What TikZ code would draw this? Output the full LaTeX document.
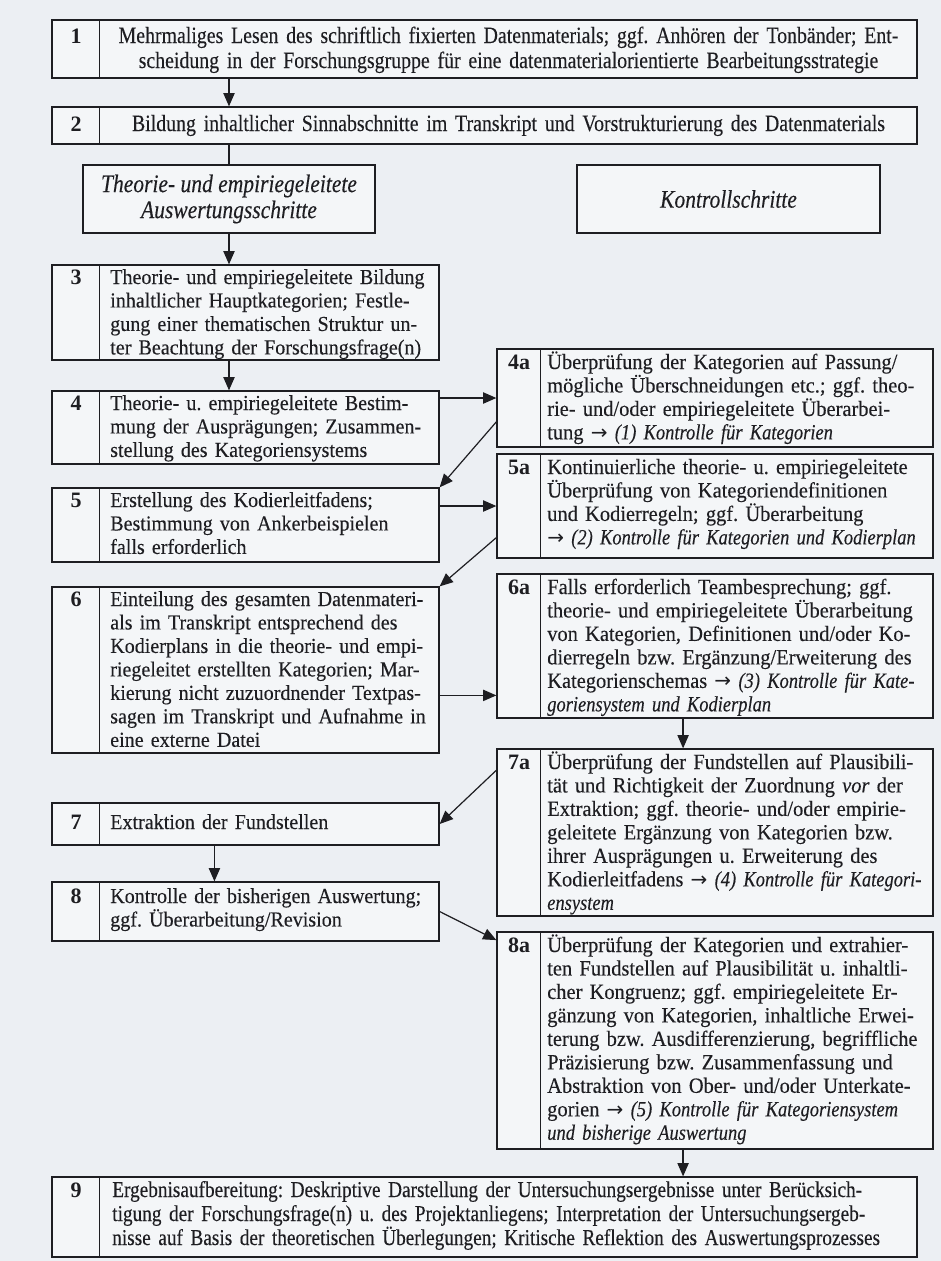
\documentclass[tikz,border=0pt]{standalone}
\usepackage{fontspec}
\setmainfont{Liberation Serif}
\newfontfamily\bodyfont[FakeStretch=0.94,FakeBold=0.2]{Liberation Serif}
\newfontfamily\narrowfont[FakeStretch=0.85,FakeBold=0.2]{Liberation Serif}
\newfontfamily\condfont[FakeStretch=0.85,FakeBold=0.2]{Liberation Serif}
\newfontfamily\arrowfont{DejaVu Sans}
\usetikzlibrary{arrows.meta,fit,calc}
\definecolor{paper}{RGB}{236,239,243}
\definecolor{boxfill}{RGB}{244,246,248}
\definecolor{ink}{RGB}{30,30,34}
\newcommand{\rarr}{{\arrowfont\fontsize{15}{17.6}\selectfont →}}
\newcommand{\kit}[1]{{\condfont\itshape #1}}
\newcommand{\jl}[1]{\makebox[\linewidth][s]{#1}}
\frenchspacing
\tikzset{
  stepbox/.style={draw=ink, line width=0.95pt, fill=boxfill, inner sep=0pt},
  headtxt/.style={inner sep=0pt, align=center, text=ink,
     font=\narrowfont\itshape\fontsize{19}{19.5}\selectfont},
  divline/.style={draw=ink, line width=0.95pt},
  numlbl/.style={anchor=base, inner sep=0pt, text=ink, font=\fontsize{16.5}{17.6}\selectfont\bfseries},
  lefttxt/.style={anchor=base west, inner sep=0pt, text=ink, text width=238.5pt, align=left,
     font=\bodyfont\frenchspacing\fontsize{16}{17.6}\selectfont},
  righttxt/.style={anchor=base west, inner sep=0pt, text=ink, text width=310pt, align=left,
     font=\bodyfont\frenchspacing\fontsize{16.3}{17.6}\selectfont},
  widetxt/.style={inner sep=0pt, text=ink, font=\narrowfont\frenchspacing\fontsize{17.5}{18.75}\selectfont},
  arr/.style={draw=ink, line width=0.9pt, -{Triangle[length=10pt,width=8.5pt]}},
  link/.style={draw=ink, line width=0.9pt},
}
\begin{document}
\begin{tikzpicture}[x=0.75pt,y=-0.75pt]
\fill[paper] (0,0) rectangle (941,1261);
\useasboundingbox (0,0) rectangle (941,1261);

% ---------- boxes ----------
\node[stepbox, fit={(52,20) (917,78)}] (b1) {};
\node[stepbox, fit={(52,107) (917,144)}] (b2) {};
\node[stepbox, fit={(83,165) (375,233)}] (hL) {};
\node[stepbox, fit={(577,165) (880,233)}] (hR) {};
\node[stepbox, fit={(52,265) (439,360)}] (b3) {};
\node[stepbox, fit={(52,391) (439,464)}] (b4) {};
\node[stepbox, fit={(52,488) (439,562)}] (b5) {};
\node[stepbox, fit={(52,587) (439,753)}] (b6) {};
\node[stepbox, fit={(52,803) (439,845)}] (b7) {};
\node[stepbox, fit={(52,882) (439,941)}] (b8) {};
\node[stepbox, fit={(497,349) (933,447)}] (b4a) {};
\node[stepbox, fit={(497,454) (933,558)}] (b5a) {};
\node[stepbox, fit={(497,574) (933,718)}] (b6a) {};
\node[stepbox, fit={(497,749) (933,916)}] (b7a) {};
\node[stepbox, fit={(497,932) (933,1149)}] (b8a) {};
\node[stepbox, fit={(52,1177) (917,1257)}] (b9) {};

% ---------- header texts ----------
\node[headtxt] (hLt) at (hL.center) {Theorie- und empiriegeleitete\\Auswertungsschritte};
\node[headtxt] (hRt) at (hR.center) {Kontrollschritte};

% ---------- number columns ----------
\foreach \b in {b1,b2,b3,b4,b5,b6,b7,b8,b9}{
  \draw[divline] ([xshift=36pt]\b.north west) -- ([xshift=36pt]\b.south west);
}
\foreach \b in {b4a,b5a,b6a,b7a,b8a}{
  \draw[divline] ([xshift=33pt]\b.north west) -- ([xshift=33pt]\b.south west);
}

% ---------- numbers ----------
\node[numlbl] (n1) at (76,43) {1};
\node[numlbl] (n2) at (76,131) {2};
\node[numlbl] (n3) at (76,284) {3};
\node[numlbl] (n4) at (76,410) {4};
\node[numlbl] (n5) at (76,507) {5};
\node[numlbl] (n6) at (76,606) {6};
\node[numlbl] (n7) at (76,829) {7};
\node[numlbl] (n8) at (76,903) {8};
\node[numlbl] (n9) at (76,1197) {9};
\node[numlbl] (n4a) at (519,369) {4a};
\node[numlbl] (n5a) at (519,474) {5a};
\node[numlbl] (n6a) at (519,594) {6a};
\node[numlbl] (n7a) at (519,769) {7a};
\node[numlbl] (n8a) at (519,952) {8a};

% ---------- wide texts ----------
\node[widetxt, anchor=base, text width=600pt, align=center] (t1) at (508.5,43)
  {Mehrmaliges Lesen des schriftlich fixierten Datenmaterials; ggf. Anhören der Tonbänder; Ent-\\
   scheidung in der Forschungsgruppe für eine datenmaterialorientierte Bearbeitungsstrategie};
\node[widetxt, anchor=base, text width=600pt, align=center] (t2) at (508.5,131)
  {Bildung inhaltlicher Sinnabschnitte im Transkript und Vorstrukturierung des Datenmaterials};
\node[widetxt, anchor=base west, text width=595pt, align=left,
      font=\narrowfont\frenchspacing\fontsize{17}{18}\selectfont] (t9) at (112,1197)
  {\jl{Ergebnisaufbereitung: Deskriptive Darstellung der Untersuchungsergebnisse unter Berücksich-}\\
   \jl{tigung der Forschungsfrage(n) u. des Projektanliegens; Interpretation der Untersuchungsergeb-}\\
   \jl{nisse auf Basis der theoretischen Überlegungen; Kritische Reflektion des Auswertungsprozesses}};

% ---------- left texts ----------
\node[lefttxt] (t3) at (110,284)
  {\jl{Theorie- und empiriegeleitete Bildung}\\
   \jl{inhaltlicher Hauptkategorien; Festle-}\\
   \jl{gung einer thematischen Struktur un-}\\
   \jl{ter Beachtung der Forschungsfrage(n)}};
\node[lefttxt] (t4) at (110,410)
  {\jl{Theorie- u. empiriegeleitete Bestim-}\\
   \jl{mung der Ausprägungen; Zusammen-}\\
   stellung des Kategoriensystems};
\node[lefttxt] (t5) at (110,507)
  {Erstellung des Kodierleitfadens;\\
   Bestimmung von Ankerbeispielen\\
   falls erforderlich};
\node[lefttxt] (t6) at (110,606)
  {\jl{Einteilung des gesamten Datenmateri-}\\
   \jl{als im Transkript entsprechend des}\\
   \jl{Kodierplans in die theorie- und empi-}\\
   \jl{riegeleitet erstellten Kategorien; Mar-}\\
   \jl{kierung nicht zuzuordnender Textpas-}\\
   \jl{sagen im Transkript und Aufnahme in}\\
   eine externe Datei};
\node[lefttxt] (t7) at (110,829) {Extraktion der Fundstellen};
\node[lefttxt] (t8) at (110,903)
  {Kontrolle der bisherigen Auswertung;\\
   ggf. Überarbeitung/Revision};

% ---------- right texts ----------
\node[righttxt] (t4a) at (547,369)
  {Überprüfung der Kategorien auf Passung/\\
   mögliche Überschneidungen etc.; ggf. theo-\\
   rie- und/oder empiriegeleitete Überarbei-\\
   tung \rarr\ \kit{(1) Kontrolle für Kategorien}};
\node[righttxt] (t5a) at (547,474)
  {Kontinuierliche theorie- u. empiriegeleitete\\
   Überprüfung von Kategoriendefinitionen\\
   und Kodierregeln; ggf. Überarbeitung\\
   \rarr\ \kit{(2) Kontrolle für Kategorien und Kodierplan}};
\node[righttxt] (t6a) at (547,594)
  {Falls erforderlich Teambesprechung; ggf.\\
   theorie- und empiriegeleitete Überarbeitung\\
   von Kategorien, Definitionen und/oder Ko-\\
   dierregeln bzw. Ergänzung/Erweiterung des\\
   Kategorienschemas \rarr\ \kit{(3) Kontrolle für Kate-}\\
   \kit{goriensystem und Kodierplan}};
\node[righttxt] (t7a) at (547,769)
  {Überprüfung der Fundstellen auf Plausibili-\\
   tät und Richtigkeit der Zuordnung \textit{vor} der\\
   Extraktion; ggf. theorie- und/oder empirie-\\
   geleitete Ergänzung von Kategorien bzw.\\
   ihrer Ausprägungen u. Erweiterung des\\
   Kodierleitfadens \rarr\ \kit{(4) Kontrolle für Kategori-}\\
   \kit{ensystem}};
\node[righttxt] (t8a) at (547,952)
  {Überprüfung der Kategorien und extrahier-\\
   ten Fundstellen auf Plausibilität u. inhaltli-\\
   cher Kongruenz; ggf. empiriegeleitete Er-\\
   gänzung von Kategorien, inhaltliche Erwei-\\
   terung bzw. Ausdifferenzierung, begriffliche\\
   Präzisierung bzw. Zusammenfassung und\\
   Abstraktion von Ober- und/oder Unterkate-\\
   gorien \rarr\ \kit{(5) Kontrolle für Kategoriensystem}\\
   \kit{und bisherige Auswertung}};

% ---------- connectors ----------
\draw[arr] (hL.north |- b1.south) -- (hL.north |- b2.north);
\draw[link] (hL.north |- b2.south) -- (hL.north);
\draw[arr] (hL.south) -- (hL.south |- b3.north);
\draw[arr] (hL.south |- b3.south) -- (hL.south |- b4.north);
\draw[arr] (b4a.west -| b4.east) -- (b4a.west);
\draw[arr] ($(b4a.north west)!0.74!(b4a.south west)$) -- (b5.north east);
\draw[arr] (b5a.west -| b5.east) -- (b5a.west);
\draw[arr] ($(b5a.north west)!0.8!(b5a.south west)$) -- (b6.north east);
\coordinate (p6) at ($(b6a.north west)!0.84!(b6a.south west)$);
\draw[arr] (p6 -| b6.east) -- (p6);
\coordinate (p6a) at ($(b6a.south west)!0.427!(b6a.south east)$);
\draw[arr] (p6a) -- (p6a |- b7a.north);
\draw[arr] ($(b7a.north west)!0.13!(b7a.south west)$) -- (b7.east);
\coordinate (p7) at ($(b7.south west)!0.42!(b7.south east)$);
\draw[arr] (p7) -- (p7 |- b8.north);
\draw[arr] (b8.east) -- ($(b8a.north west)!0.04!(b8a.south west)$);
\coordinate (p8a) at ($(b8a.south west)!0.427!(b8a.south east)$);
\draw[arr] (p8a) -- (p8a |- b9.north);
\end{tikzpicture}
\end{document}
